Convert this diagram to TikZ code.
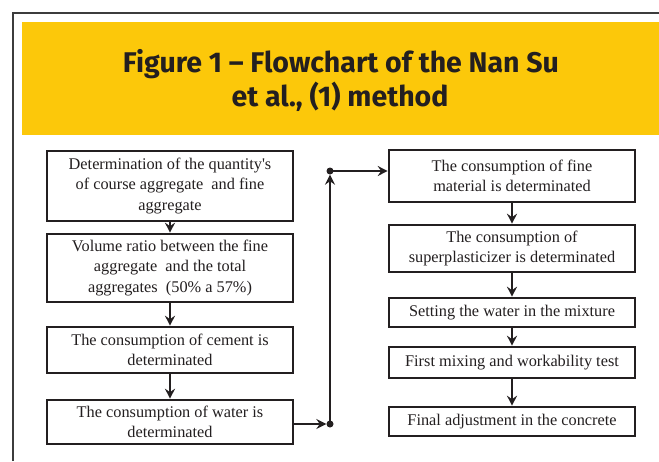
\documentclass[tikz,border=0pt]{standalone}
\usepackage{fontspec}
\setmainfont{Liberation Serif}
\newfontfamily\titlefont{Fira Sans}
\usetikzlibrary{arrows.meta}
\definecolor{banner}{RGB}{252,200,10}
\definecolor{ink}{RGB}{35,31,32}
\definecolor{framegray}{RGB}{60,60,60}
\tikzset{
  stepbox/.style={draw=ink, line width=2.6pt, fill=white, align=center,
    text=ink, inner sep=0pt, font=\fontsize{16.3}{20.5}\selectfont},
  wide/.style={minimum width=246pt},
  flow/.style={draw=ink, line width=2.2pt, -{Stealth[length=10pt,width=10pt,inset=3.5pt]}},
  joint/.style={circle, fill=ink, inner sep=0pt, minimum size=7pt}
}
\begin{document}
\begin{tikzpicture}[x=1pt, y=-1pt]
  \useasboundingbox (0,0) rectangle (659,461);
  \fill[white] (0,0) rectangle (659,461);
  % page frame
  \draw[framegray, line width=1.3pt] (13,461) -- (13,13) -- (659,13);
  % title banner
  \fill[banner] (22,22) rectangle (659,135);
  \node[text=ink, font=\titlefont\bfseries\fontsize{28.5}{34}\selectfont, anchor=base]
    (t1) at (341,72) {Figure 1 – Flowchart of the Nan Su};
  \node[text=ink, font=\titlefont\bfseries\fontsize{28.5}{34}\selectfont, anchor=base]
    (t2) at (340,106) {et al., (1) method};
  % left column
  \node[stepbox, wide, minimum height=70pt] (b1) at (170,186)
    {Determination of the quantity\textquotesingle s\\of course aggregate\ \ and fine\\aggregate};
  \node[stepbox, wide, minimum height=68pt] (b2) at (170,268)
    {Volume ratio between the fine\\aggregate\ \ and the total\\aggregates\ \ (50\% a 57\%)};
  \node[stepbox, wide, minimum height=46pt] (b3) at (170,350)
    {The consumption of cement is\\determinated};
  \node[stepbox, wide, minimum height=44pt] (b4) at (170,422)
    {The consumption of water is\\determinated};
  % right column
  \node[stepbox, wide, minimum height=52pt] (r1) at (512,176)
    {The consumption of fine\\material is determinated};
  \node[stepbox, wide, minimum height=47pt] (r2) at (512,248.5)
    {The consumption of\\superplasticizer is determinated};
  \node[stepbox, wide, minimum height=29pt] (r3) at (512,312.5)
    {Setting the water in the mixture};
  \node[stepbox, wide, minimum height=31pt] (r4) at (512,362.5)
    {First mixing and workability test};
  \node[stepbox, wide, minimum height=29pt] (r5) at (512,421.5)
    {Final adjustment in the concrete};
  % junctions of the link between the columns
  \node[joint] (j1) at (330,424) {};
  \node[joint] (j2) at (330,171) {};
  % connectors
  \draw[flow] (b1) -- (b2);
  \draw[flow] (b2) -- (b3);
  \draw[flow] (b3) -- (b4);
  \draw[flow] (b4.east |- j1) -- (j1.west);
  \draw[flow] (j1.center) -- (j2.south);
  \draw[flow] (j2.center) -- (j2 -| r1.west);
  \draw[flow] (r1) -- (r2);
  \draw[flow] (r2) -- (r3);
  \draw[flow] (r3) -- (r4);
  \draw[flow] (r4) -- (r5);
\end{tikzpicture}
\end{document}
